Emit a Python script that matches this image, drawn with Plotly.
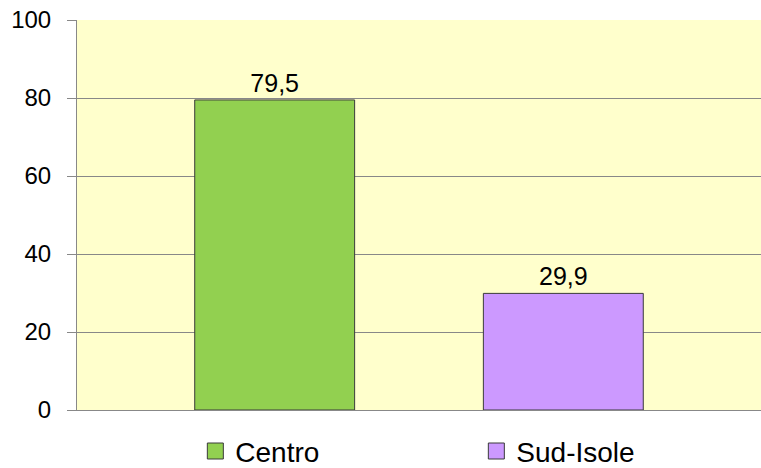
import plotly.graph_objects as go

series = ["Centro", "Sud-Isole"]
values = [79.5, 29.9]
colors = ["#92D050", "#CC99FF"]
y_ticks = [0, 20, 40, 60, 80, 100]

FONT = "Liberation Sans, Arial, sans-serif"
fig = go.Figure()
for name, v, c in zip(series, values, colors):
    fig.add_trace(go.Bar(
        x=[""], y=[v], name=name, showlegend=False,
        marker=dict(color=c, line=dict(color="#3a3a3a", width=1)),
        texttemplate="%{y:.1f}", textposition="outside",
        textfont=dict(size=25, color="#000000", family=FONT),
        cliponaxis=False,
    ))
# legend entries (square swatches)
for name, c in zip(series, colors):
    fig.add_trace(go.Scatter(
        x=[None], y=[None], name=name, mode="markers",
        marker=dict(symbol="square", size=16, color=c, line=dict(color="#3a3a3a", width=1)),
    ))

fig.update_layout(
    width=761, height=468,
    margin=dict(l=77, r=0, t=20, b=58, autoexpand=False),
    barmode="group", bargap=0.156, bargroupgap=0.446,
    separators=",.",
    paper_bgcolor="white", plot_bgcolor="#FFFFCC",
    font=dict(family=FONT, size=24, color="#000000"),
    showlegend=True,
    legend=dict(orientation="h", x=0.173, xanchor="left", y=-0.17, yanchor="bottom",
                font=dict(size=28), entrywidth=236, entrywidthmode="pixels",
                itemsizing="trace", bgcolor="rgba(0,0,0,0)"),
    xaxis=dict(showticklabels=False, showline=True, linecolor="#888888", linewidth=1,
               showgrid=False, zeroline=False, ticks="", automargin=False),
    yaxis=dict(range=[0, 100], tickvals=y_ticks, showline=True, linecolor="#888888",
               linewidth=1, gridcolor="#888888", gridwidth=1, zeroline=False,
               ticks="outside", ticklen=9, tickcolor="#888888", automargin=False,
               ticklabelstandoff=11, tickfont=dict(size=24)),
)

fig.write_html("out.html", config={"displayModeBar": False},
               post_script="document.body.style.margin='0';document.body.style.overflow='hidden';")
